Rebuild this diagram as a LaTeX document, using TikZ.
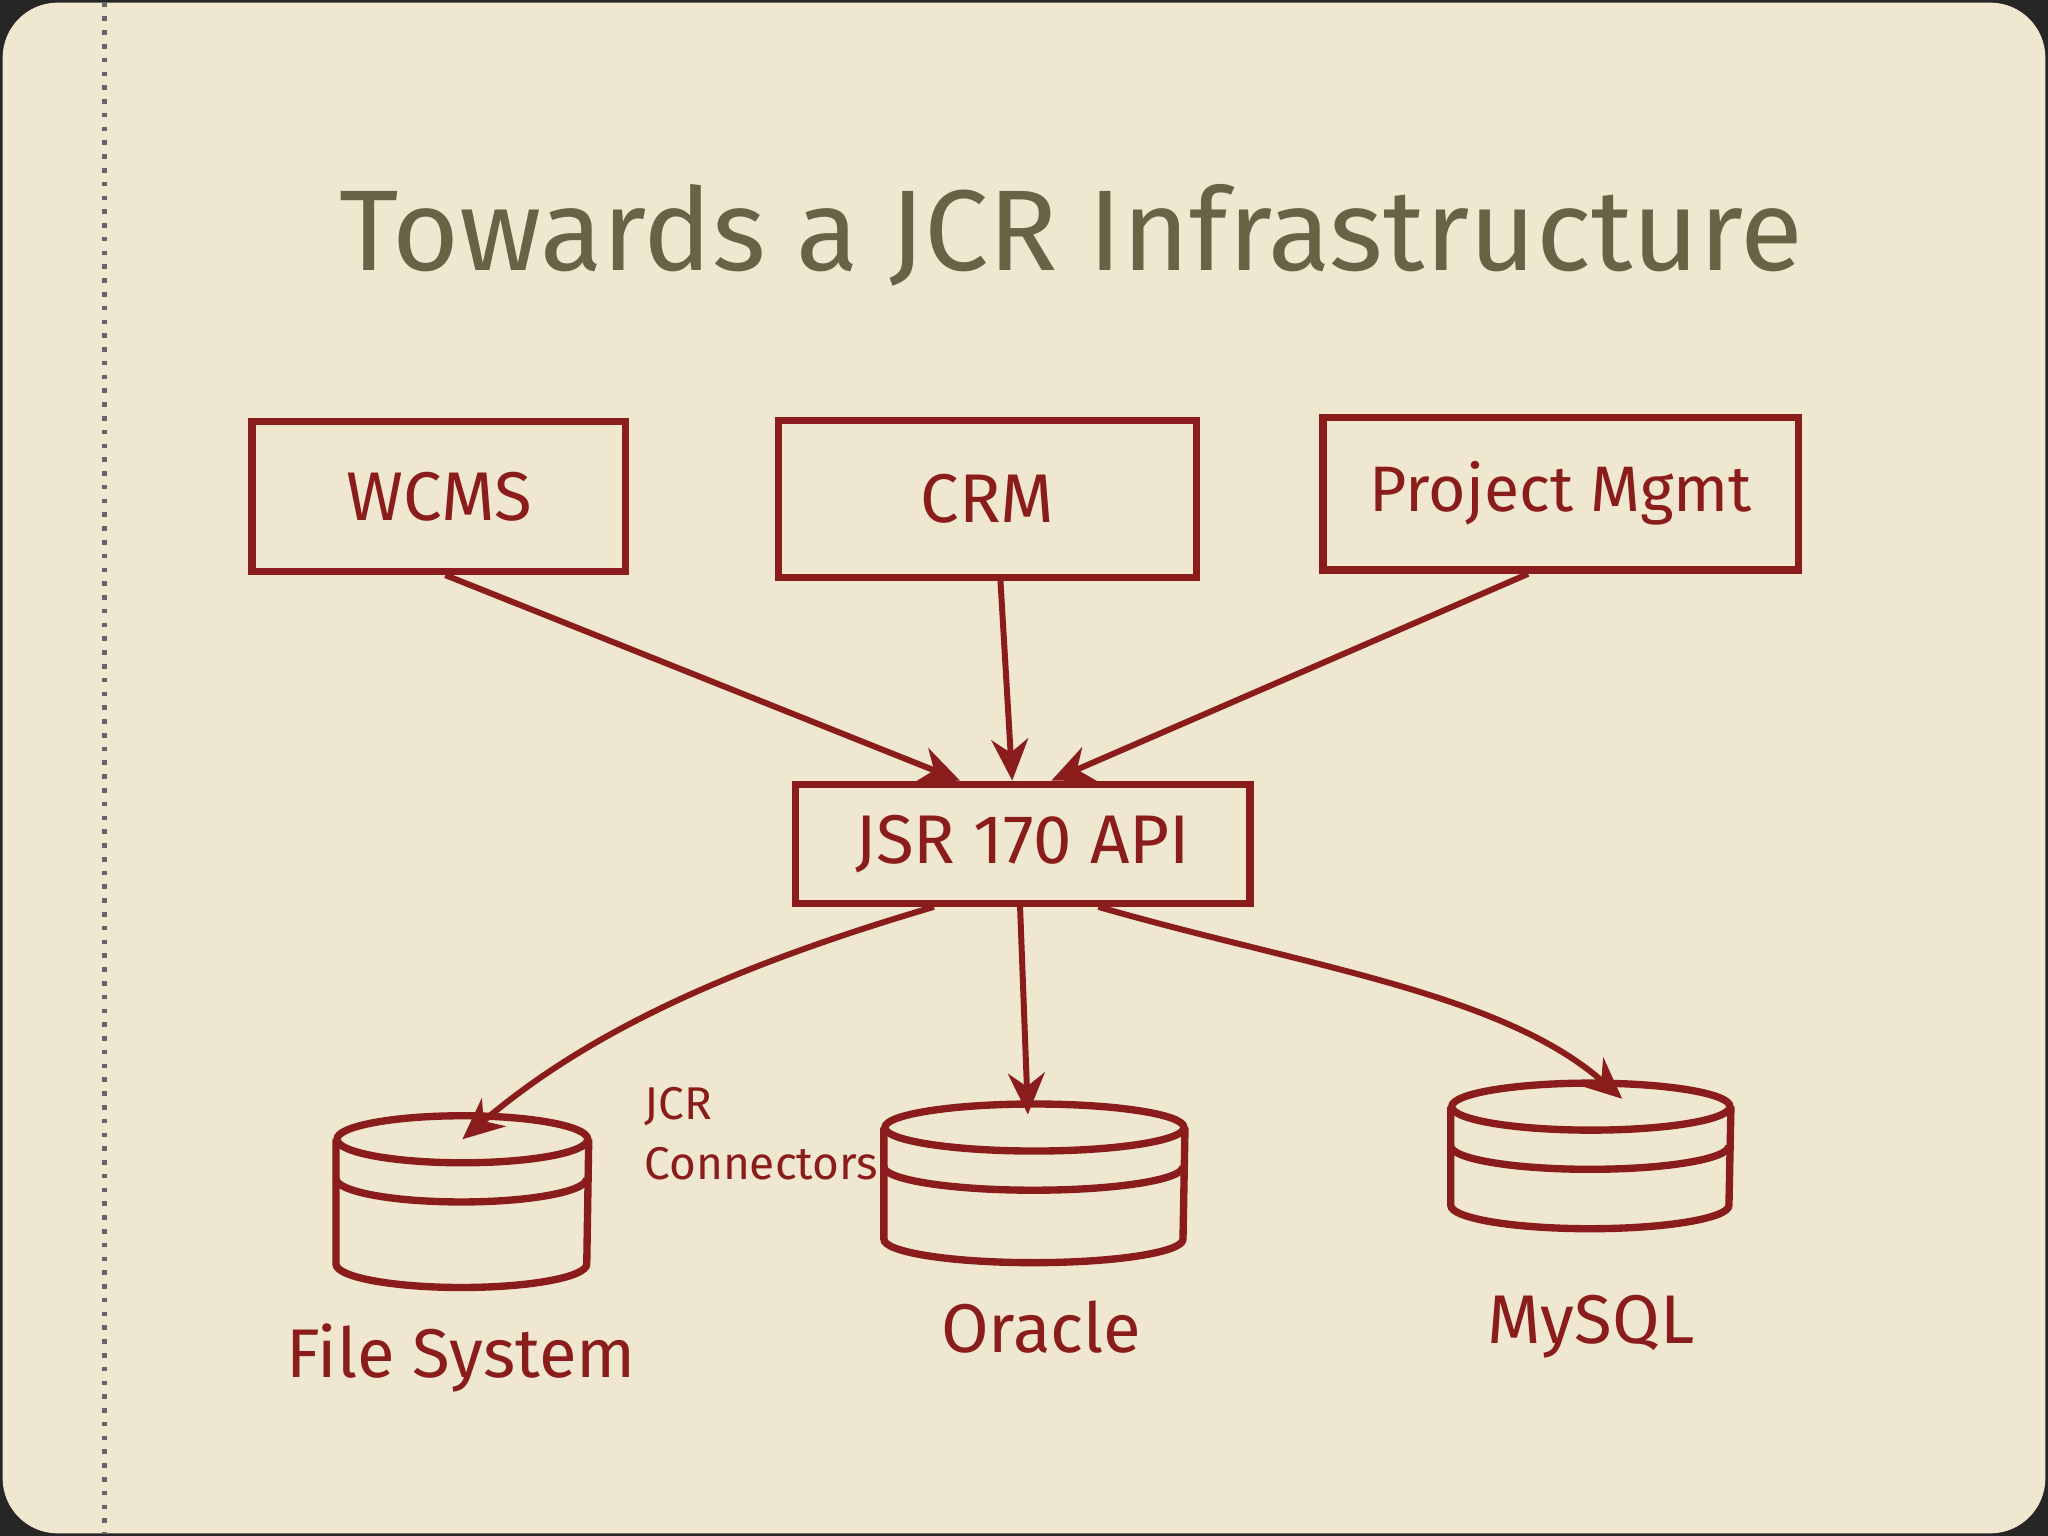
\documentclass[tikz,border=0pt]{standalone}
\usepackage{fontspec}
\setmainfont{Fira Sans}
\usetikzlibrary{arrows.meta,calc}
\definecolor{paper}{HTML}{EFE7CF}
\definecolor{ink}{HTML}{8A1C1C}
\definecolor{titlec}{HTML}{6A6245}
\tikzset{
  box/.style={draw=ink, line width=1.6pt, text=ink, font=\fontsize{15}{18}\selectfont, inner sep=0pt},
  lbl/.style={text=ink, font=\fontsize{15}{18}\selectfont},
  link/.style={draw=ink, line width=1.3pt, -{Stealth[length=9pt,width=8pt]}},
  can/.style={draw=none, inner sep=0pt},
  canline/.style={draw=ink, line width=1.6pt}
}
\begin{document}
\begin{tikzpicture}[x=0.01cm,y=-0.01cm]
\useasboundingbox (0,0) rectangle (1568,1176);
\fill[black!85] (0,0) rectangle (1568,1176);
\fill[paper, rounded corners=12pt] (2,2) rectangle (1566,1174);
\draw[black!60, line width=1pt, dotted] (80,2) -- (80,1174);
\node[text=titlec, font=\fontsize{25}{30}\selectfont] (title) at (820,180) {Towards a JCR Infrastructure};
% top boxes
\node[box, minimum width=2.86cm, minimum height=1.15cm] (wcms) at (336,380) {WCMS};
\node[box, minimum width=3.2cm, minimum height=1.2cm] (crm) at (756,382) {CRM};
\node[box, minimum width=3.64cm, minimum height=1.17cm, font=\fontsize{14}{17}\selectfont] (pm) at (1195,378) {Project Mgmt};
\node[box, minimum width=3.48cm, minimum height=0.91cm] (jsr) at (783,646) {JSR 170 API};
% cylinders
\node[can, minimum width=1.92cm, minimum height=1.3cm] (fs) at (354,920) {};
\node[can, minimum width=2.29cm, minimum height=1.2cm] (ora) at (792,906) {};
\node[can, minimum width=2.13cm, minimum height=1.1cm] (my) at (1218,885) {};
\foreach \c/\r in {fs/96,ora/114.5,my/106.5}{
  \draw[canline] ($(\c.north)+(0,18)$) ellipse [x radius=\r, y radius=18];
  \draw[canline] ($(\c.north west)+(0,18)$) -- ($(\c.south west)+(0,-18)$)
    arc[start angle=180, end angle=360, x radius=\r, y radius=-18]
    -- ($(\c.north east)+(0,18)$);
  \draw[canline] ($(\c.north west)+(0,48)$) arc[start angle=180, end angle=360, x radius=\r, y radius=-18];
}
\node[lbl] (fsl) at (353,1040) {File System};
\node[lbl] (oral) at (797,1016) {Oracle};
\node[lbl] (myl) at (1218,1016) {MySQL};
\node[text=ink, font=\fontsize{10}{13}\selectfont, align=left, anchor=north west] (conn) at (481,820) {JCR\\Connectors};
% arrows
\draw[link] ($(wcms.south)+(5,0)$) -- ($(jsr.north)+(-48,0)$);
\draw[link] ($(crm.south)+(10,0)$) -- ($(jsr.north)+(-8,0)$);
\draw[link] ($(pm.south)+(-25,0)$) -- ($(jsr.north)+(22,0)$);
\draw[link] ($(jsr.south)+(-68,0)$) .. controls (560,740) and (450,790) .. ($(fs.north)+(0,18)$);
\draw[link] ($(jsr.south)+(-2,0)$) -- ($(ora.north)+(-5,8)$);
\draw[link] ($(jsr.south)+(58,0)$) .. controls (1000,740) and (1150,760) .. ($(my.north)+(24,12)$);
\end{tikzpicture}
\end{document}
